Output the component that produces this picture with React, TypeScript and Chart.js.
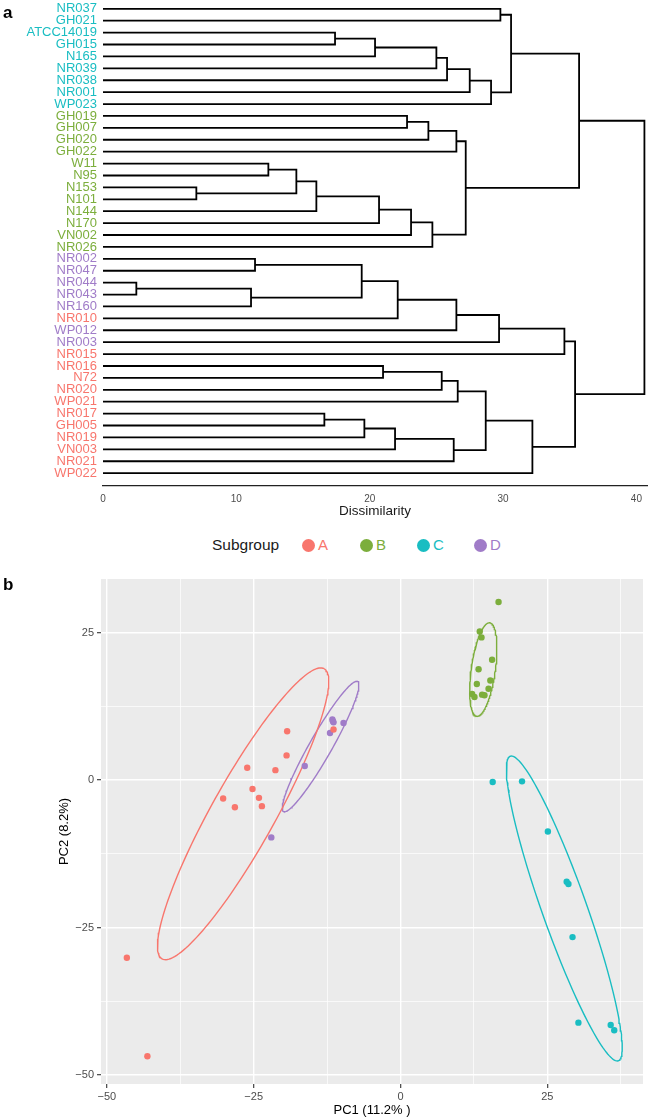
import React, { useEffect, useRef } from 'react';
import { Chart, registerables } from 'chart.js';
Chart.register(...registerables);

// ---------- Dendrogram data ----------
const leafNames = ['NR037','GH021','ATCC14019','GH015','N165','NR039','NR038','NR001','WP023',
  'GH019','GH007','GH020','GH022','W11','N95','N153','N101','N144','N170','VN002','NR026',
  'NR002','NR047','NR044','NR043','NR160','NR010','WP012','NR003','NR015','NR016','N72',
  'NR020','WP021','NR017','GH005','NR019','VN003','NR021','WP022'];
const leafGroups = ['C','C','C','C','C','C','C','C','C',
  'B','B','B','B','B','B','B','B','B','B','B','B',
  'D','D','D','D','D','A','D','D','A','A','A',
  'A','A','A','A','A','A','A','A'];
// hclust-style merge table: negative = leaf (1-based), positive = earlier merge (1-based)
const mergeLeft = [-24,-16,-22,1,-14,5,6,-35,-3,3,8,9,7,-31,11,10,-10,13,17,18,12,14,21,15,19,16,22,25,23,27,29,26,-1,33,32,30,35,34,38];
const mergeRight = [-25,-17,-23,-26,-15,2,-18,-36,-4,4,-37,-5,-19,-32,-38,-27,-11,-20,-12,-21,-6,-33,-7,-39,-13,-28,-34,20,-8,24,-9,-29,-2,31,-30,-40,36,28,37];
const mergeHeight = [2.5,7.0,11.4,11.1,12.4,14.5,16.0,16.6,17.4,19.4,19.6,20.4,20.7,21.0,21.9,22.1,22.8,23.1,24.4,24.7,25.0,25.4,25.8,26.3,26.5,26.5,26.6,27.2,27.5,28.7,29.1,29.7,29.8,30.6,34.6,32.2,35.4,35.7,40.6];
const dissimilarityTicks = [0, 10, 20, 30, 40];

// ---------- PCA data ----------
const groupNames = ['A', 'B', 'C', 'D'];
const groupColors: Record<string, string> = { A: '#F8766D', B: '#7CAE3C', C: '#19BDC2', D: '#A07CC8' };
const groupA_pc1 = [-19.3, -19.4, -26.1, -21.3, -25.2, -30.2, -24.1, -28.2, -23.6, -11.4, -46.6, -43.1];
const groupA_pc2 = [8.3, 4.2, 2.1, 1.7, -1.5, -3.1, -3.0, -4.6, -4.4, 8.6, -30.1, -46.8];
const groupB_pc1 = [16.7, 13.5, 13.8, 15.6, 13.3, 15.3, 13.0, 15.0, 12.2, 12.6, 13.9, 14.3];
const groupB_pc2 = [30.2, 25.2, 24.2, 20.4, 18.8, 16.9, 16.3, 15.5, 14.6, 14.1, 14.5, 14.4];
const groupC_pc1 = [15.7, 20.7, 25.1, 28.3, 28.6, 29.3, 30.3, 35.8, 36.4];
const groupC_pc2 = [-0.3, -0.2, -8.7, -17.2, -17.6, -26.6, -41.1, -41.5, -42.4];
const groupD_pc1 = [-11.6, -11.4, -11.5, -12.0, -9.7, -16.3, -22.0];
const groupD_pc2 = [10.3, 9.8, 10.0, 8.0, 9.7, 2.4, -9.7];
const pcaX = [groupA_pc1, groupB_pc1, groupC_pc1, groupD_pc1];
const pcaY = [groupA_pc2, groupB_pc2, groupC_pc2, groupD_pc2];
// confidence ellipse parameters per group (A, B, C, D)
const ellipseCenterX = [-26.8, 14.1, 27.9, -13.6];
const ellipseCenterY = [-5.7, 18.75, -21.75, 5.7];
const ellipseSemiMajor = [28.2, 8.0, 27.4, 12.7];
const ellipseSemiMinor = [5.4, 2.05, 3.8, 1.9];
const ellipseAngleDeg = [60.7, 82, 109.6, 60.2];
const pcTicks = [-50, -37.5, -25, -12.5, 0, 12.5, 25, 37.5];
const pcMajor = [-50, -25, 0, 25];

const FONT = '"Liberation Sans", Arial, Helvetica, sans-serif';
const fmt = (v: number) => (v < 0 ? '\u2212' + Math.abs(v) : String(v));

function buildDendroPath() {
  const pos: number[] = [];
  const pts: { x: number; y: number | null }[] = [];
  const cy = (c: number) => (c < 0 ? -c - 1 : pos[c - 1]);
  const ch = (c: number) => (c < 0 ? 0 : mergeHeight[c - 1]);
  for (let m = 0; m < mergeHeight.length; m++) {
    const l = mergeLeft[m], r = mergeRight[m], h = mergeHeight[m];
    const y1 = cy(l), y2 = cy(r);
    pos[m] = (y1 + y2) / 2;
    pts.push({ x: ch(l), y: y1 }, { x: h, y: y1 }, { x: h, y: y2 }, { x: ch(r), y: y2 }, { x: h, y: null });
  }
  return pts;
}

function ellipsePoints(g: number) {
  const pts: { x: number; y: number }[] = [];
  const t = (ellipseAngleDeg[g] * Math.PI) / 180;
  const n = 160;
  for (let i = 0; i <= n; i++) {
    const a = (2 * Math.PI * i) / n;
    const ex = ellipseSemiMajor[g] * Math.cos(a);
    const ey = ellipseSemiMinor[g] * Math.sin(a);
    pts.push({ x: ellipseCenterX[g] + ex * Math.cos(t) - ey * Math.sin(t), y: ellipseCenterY[g] + ex * Math.sin(t) + ey * Math.cos(t) });
  }
  return pts;
}

const panelBg = {
  id: 'panelBg',
  beforeDraw(chart: any, _args: any, opts: any) {
    if (!opts || !opts.color) return;
    const { ctx, chartArea } = chart;
    ctx.save();
    ctx.fillStyle = opts.color;
    ctx.fillRect(chartArea.left, chartArea.top, chartArea.right - chartArea.left, chartArea.bottom - chartArea.top);
    ctx.restore();
  },
};

export default function App() {
  const dRef = useRef<HTMLCanvasElement>(null);
  const pRef = useRef<HTMLCanvasElement>(null);

  useEffect(() => {
    const dendro = new Chart(dRef.current!, {
      type: 'scatter',
      data: {
        datasets: [{
          data: buildDendroPath() as any,
          showLine: true,
          borderColor: '#000000',
          borderWidth: 1.8,
          pointRadius: 0,
          borderJoinStyle: 'miter',
          borderCapStyle: 'square',
          spanGaps: false,
        }],
      },
      options: {
        animation: false,
        responsive: false,
        layout: { padding: { top: 10, right: 1, left: 0, bottom: 0 } },
        plugins: { legend: { display: false }, tooltip: { enabled: false } },
        scales: {
          x: {
            type: 'linear', min: 0, max: 40.8,
            afterBuildTicks: (s: any) => { s.ticks = dissimilarityTicks.map((v) => ({ value: v })); },
            afterFit: (s: any) => { s.height = 34; },
            grid: { display: false, drawTicks: false },
            border: { display: true, color: '#222222', width: 1.3 },
            ticks: { color: '#4D4D4D', font: { family: FONT, size: 10 }, padding: 7, maxRotation: 0 },
            title: { display: true, text: 'Dissimilarity', color: '#1A1A1A', font: { family: FONT, size: 13.5 }, padding: { top: 0, bottom: 0.5 } },
          },
          y: {
            type: 'linear', reverse: true, min: -0.42, max: 40.08,
            afterBuildTicks: (s: any) => { s.ticks = leafNames.map((_, i) => ({ value: i })); },
            afterFit: (s: any) => { s.width = 103; },
            grid: { display: false, drawTicks: false },
            border: { display: false },
            ticks: {
              autoSkip: false,
              padding: 6,
              font: { family: FONT, size: 13 },
              color: (ctx: any) => groupColors[leafGroups[ctx.index]] || '#000',
              callback: (v: any) => leafNames[v] ?? '',
            },
          },
        },
      },
    });

    const datasets: any[] = [];
    groupNames.forEach((g, gi) => {
      datasets.push({
        label: g,
        data: pcaX[gi].map((x, i) => ({ x, y: pcaY[gi][i] })),
        backgroundColor: groupColors[g],
        borderColor: groupColors[g],
        pointRadius: 3.2,
        pointBorderWidth: 0,
      });
    });
    groupNames.forEach((g, gi) => {
      datasets.push({
        label: g + ' ellipse',
        data: ellipsePoints(gi),
        showLine: true,
        borderColor: groupColors[g],
        borderWidth: 1.4,
        pointRadius: 0,
        fill: false,
      });
    });

    const gridWidth = (ctx: any) => (pcMajor.includes(ctx.tick?.value) ? 1.4 : 0.7);
    const tickCol = (ctx: any) => (pcMajor.includes(ctx.tick?.value) ? '#333333' : 'rgba(0,0,0,0)');

    const pca = new Chart(pRef.current!, {
      type: 'scatter',
      data: { datasets },
      plugins: [panelBg],
      options: {
        animation: false,
        responsive: false,
        layout: { padding: { top: 19, right: 6, left: 53, bottom: 0 } },
        plugins: { legend: { display: false }, tooltip: { enabled: false }, panelBg: { color: '#EBEBEB' } } as any,
        scales: {
          x: {
            type: 'linear', min: -51.0, max: 41.3,
            afterBuildTicks: (s: any) => { s.ticks = pcTicks.filter((v) => v >= -51 && v <= 41.3).map((v) => ({ value: v })); },
            afterFit: (s: any) => { s.height = 34; },
            grid: { color: '#FFFFFF', lineWidth: gridWidth, tickColor: tickCol, tickLength: 4, tickWidth: 1.1 },
            border: { display: false },
            ticks: { color: '#4D4D4D', font: { family: FONT, size: 11 }, padding: 2, maxRotation: 0, autoSkip: false,
              callback: (v: any) => (pcMajor.includes(v) ? fmt(v) : '') },
            title: { display: true, text: 'PC1 (11.2% )', color: '#000000', font: { family: FONT, size: 13 }, padding: { top: 0, bottom: 0 } },
          },
          y: {
            type: 'linear', min: -51.5, max: 34.1,
            afterBuildTicks: (s: any) => { s.ticks = pcTicks.filter((v) => v >= -51.5 && v <= 34.1).map((v) => ({ value: v })); },
            afterFit: (s: any) => { s.width = 48; },
            grid: { color: '#FFFFFF', lineWidth: gridWidth, tickColor: tickCol, tickLength: 4, tickWidth: 1.1 },
            border: { display: false },
            ticks: { color: '#4D4D4D', font: { family: FONT, size: 11 }, padding: 3, autoSkip: false,
              callback: (v: any) => (pcMajor.includes(v) ? fmt(v) : '') },
            title: { display: true, text: 'PC2 (8.2%)', color: '#000000', font: { family: FONT, size: 13 }, padding: { top: 3.5, bottom: 0 } },
          },
        },
      },
    });

    return () => { dendro.destroy(); pca.destroy(); };
  }, []);

  const LY = 545;
  const legendItem = (g: string, cx: number, tx: number) => (
    <React.Fragment key={g}>
      <div style={{ position: 'absolute', left: cx - 6.5, top: LY - 6.5, width: 13, height: 13, borderRadius: 7, background: groupColors[g] }} />
      <div style={{ position: 'absolute', left: tx, top: LY - 9, fontSize: 15, lineHeight: '18px', color: groupColors[g], fontFamily: FONT }}>{g}</div>
    </React.Fragment>
  );

  return (
    <div style={{ position: 'absolute', left: 0, top: 0, width: 649, height: 1118, overflow: 'hidden', background: '#FFFFFF' }}>
      <canvas ref={dRef} width={649} height={530} style={{ position: 'absolute', left: 0, top: -10, width: 649, height: 530 }} />
      <canvas ref={pRef} width={649} height={558} style={{ position: 'absolute', left: 0, top: 560, width: 649, height: 558 }} />
      <div style={{ position: 'absolute', left: 3, top: 3, fontSize: 17, fontWeight: 'bold', fontFamily: FONT, lineHeight: '20px' }}>a</div>
      <div style={{ position: 'absolute', left: 3, top: 575, fontSize: 17, fontWeight: 'bold', fontFamily: FONT, lineHeight: '20px' }}>b</div>
      <div style={{ position: 'absolute', left: 212, top: LY - 9, fontSize: 15.5, lineHeight: '18px', color: '#1A1A1A', fontFamily: FONT }}>Subgroup</div>
      {legendItem('A', 308, 318)}
      {legendItem('B', 366, 376)}
      {legendItem('C', 423, 433)}
      {legendItem('D', 480, 490)}
    </div>
  );
}
